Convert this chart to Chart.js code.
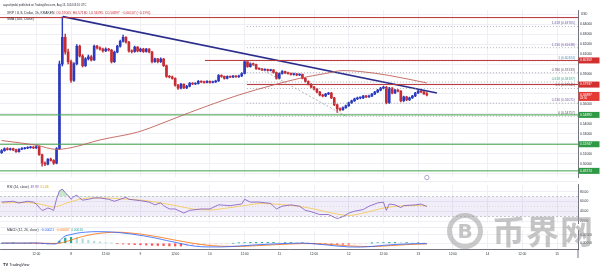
<!DOCTYPE html>
<html lang="en">
<head>
<meta charset="UTF-8">
<title>XRP / U.S. Dollar, 1h</title>
<script src="https://cdn.jsdelivr.net/npm/chart.js"></script>
<style>
  body { margin: 0; background: #fff; width: 600px; height: 270px; overflow: hidden; position: relative; }
  .pane { position: absolute; left: 0; width: 600px; }
  .mark { position: absolute; pointer-events: none; color: rgba(150, 150, 150, 0.55); }
  .coin { left: 447px; top: 213px; width: 26px; height: 26px; border: 5px solid rgba(150, 150, 150, 0.5);
          border-radius: 50%; font: bold 20px "DejaVu Sans", sans-serif; line-height: 26px; text-align: center; }
  .cn { left: 492px; top: 211px; font: bold 33px "Noto Sans CJK SC", sans-serif; line-height: 38px; letter-spacing: 1px; }
</style>
</head>
<body>
<div class="pane" style="top:0;height:181px"><canvas id="price" width="600" height="181"></canvas></div>
<div class="pane" style="top:181px;height:46px"><canvas id="rsi" width="600" height="46"></canvas></div>
<div class="pane" style="top:227px;height:43px"><canvas id="macd" width="600" height="43"></canvas></div>
<div class="mark coin">B</div>
<div class="mark cn">币界网</div>

<script>
// ---- data (hour 0 = Aug 8 00:00 UTC, one candle per hour from Aug 7 00:00) ----
const firstOpen = 0.5110;
const closes = [
  0.5130,0.5150,0.5142,0.5150,0.5138,0.5120,0.5144,0.5150,0.5156,0.5160,0.5166,0.5158,0.5170,0.5090,0.5005,0.4995,
  0.5045,0.5032,0.5005,0.5150,0.6000,0.6268,0.6121,0.6023,0.5836,0.6003,0.6179,0.6081,0.5983,0.6052,0.6072,0.6040,
  0.6179,0.6162,0.6150,0.6132,0.6150,0.6140,0.6023,0.6120,0.6179,0.6228,0.6268,0.6220,0.6130,0.6125,0.6170,0.6130,
  0.6150,0.6125,0.6150,0.6121,0.6023,0.6052,0.6023,0.6050,0.5983,0.5875,0.5870,0.5856,0.5787,0.5758,0.5797,0.5760,
  0.5777,0.5807,0.5800,0.5805,0.5826,0.5820,0.5815,0.5826,0.5815,0.5820,0.5830,0.5885,0.5875,0.5856,0.5875,0.5870,
  0.5878,0.5872,0.5880,0.5905,0.6023,0.5974,0.6003,0.5995,0.5954,0.5950,0.5940,0.5945,0.5935,0.5940,0.5915,0.5856,
  0.5905,0.5925,0.5910,0.5905,0.5895,0.5900,0.5890,0.5895,0.5856,0.5826,0.5797,0.5768,0.5748,0.5719,0.5689,0.5679,
  0.5699,0.5709,0.5660,0.5591,0.5552,0.5542,0.5562,0.5581,0.5611,0.5630,0.5650,0.5660,0.5660,0.5679,0.5670,0.5679,
  0.5699,0.5719,0.5738,0.5758,0.5768,0.5611,0.5758,0.5709,0.5738,0.5728,0.5630,0.5670,0.5640,0.5660,0.5679,0.5709,
  0.5728,0.5719,0.5700,0.5690
];
const highs = [
  0.5142,0.5158,0.5160,0.5157,0.5156,0.5145,0.5150,0.5161,0.5164,0.5170,0.5175,0.5172,0.5180,0.5176,0.5096,0.5018,
  0.5052,0.5056,0.5040,0.5162,0.6030,0.6474,0.6300,0.6150,0.6040,0.6015,0.6195,0.6190,0.6095,0.6065,0.6090,0.6085,
  0.6190,0.6188,0.6172,0.6160,0.6162,0.6158,0.6148,0.6130,0.6188,0.6240,0.6290,0.6275,0.6228,0.6142,0.6180,0.6176,
  0.6160,0.6158,0.6158,0.6156,0.6128,0.6060,0.6058,0.6062,0.6058,0.5990,0.5885,0.5880,0.5862,0.5795,0.5805,0.5802,
  0.5785,0.5815,0.5814,0.5812,0.5835,0.5832,0.5828,0.5834,0.5830,0.5828,0.5838,0.5895,0.5892,0.5880,0.5882,0.5880,
  0.5886,0.5884,0.5888,0.5914,0.6035,0.6028,0.6012,0.6010,0.6000,0.5962,0.5956,0.5952,0.5950,0.5948,0.5946,0.5920,
  0.5912,0.5934,0.5930,0.5918,0.5912,0.5908,0.5906,0.5903,0.5900,0.5862,0.5832,0.5803,0.5775,0.5755,0.5725,0.5696,
  0.5706,0.5716,0.5715,0.5666,0.5598,0.5560,0.5570,0.5588,0.5618,0.5638,0.5658,0.5668,0.5670,0.5686,0.5686,0.5688,
  0.5706,0.5726,0.5746,0.5766,0.5778,0.5775,0.5766,0.5764,0.5746,0.5745,0.5734,0.5678,0.5676,0.5668,0.5686,0.5716,
  0.5736,0.5735,0.5725,0.5718
];
const lows = [
  0.5102,0.5124,0.5135,0.5136,0.5130,0.5112,0.5116,0.5139,0.5145,0.5150,0.5154,0.5150,0.5152,0.5082,0.4974,0.4980,
  0.4988,0.5025,0.4992,0.4998,0.5140,0.5980,0.6100,0.6000,0.5815,0.5825,0.5990,0.6070,0.5970,0.5975,0.6040,0.6030,
  0.6035,0.6150,0.6140,0.6120,0.6125,0.6130,0.6010,0.6015,0.6112,0.6170,0.6220,0.6210,0.6120,0.6112,0.6118,0.6122,
  0.6122,0.6115,0.6118,0.6112,0.6012,0.6015,0.6010,0.6015,0.5975,0.5865,0.5860,0.5848,0.5778,0.5745,0.5750,0.5752,
  0.5752,0.5770,0.5792,0.5794,0.5798,0.5812,0.5808,0.5810,0.5808,0.5809,0.5814,0.5825,0.5866,0.5848,0.5850,0.5862,
  0.5864,0.5866,0.5866,0.5874,0.5900,0.5966,0.5968,0.5985,0.5946,0.5942,0.5932,0.5934,0.5928,0.5930,0.5908,0.5848,
  0.5850,0.5898,0.5902,0.5898,0.5888,0.5888,0.5882,0.5884,0.5850,0.5818,0.5790,0.5760,0.5740,0.5710,0.5680,0.5670,
  0.5672,0.5692,0.5652,0.5582,0.5513,0.5530,0.5535,0.5555,0.5575,0.5604,0.5624,0.5642,0.5650,0.5652,0.5662,0.5664,
  0.5672,0.5692,0.5712,0.5730,0.5750,0.5600,0.5605,0.5700,0.5702,0.5720,0.5620,0.5624,0.5632,0.5634,0.5654,0.5672,
  0.5702,0.5712,0.5694,0.5679
];

const smaHours  = [-24, -12, -5, 0, 10, 23, 28, 41, 58, 70, 79, 88, 94, 100, 110, 123];
const smaValues = [0.5232,0.5185,0.5143,0.5160,0.5238,0.5316,0.5366,0.5513,0.5689,0.5790,0.5856,0.5905,0.5934,0.5925,0.5885,0.5810];

const rsiHours  = [-24,-20,-18,-15,-13,-12,-11,-10,-9,-8,-7,-6,-5,-4,-3,-2,-1,0,1,2,3,4,6,8,10,13,15,17,19,20,24,27,29,31,32,34,
                   36,38,39,41,45,48,51,55,59,60,62,65,69,71,73,76,79,81,83,86,89,92,94,96,98,101,103,106,108,109,110,112,114,115,119,121,123];
const rsiValues = [58.8,60.5,57.0,60.5,58.8,55.0,48.0,42.0,44.0,47.0,45.0,42.0,65.0,81.7,85.0,78.0,72.0,64.5,70.0,72.8,67.0,62.8,64.5,67.2,67.2,64.5,60.5,64.5,68.3,64.5,61.7,58.8,53.3,57.2,51.7,45.0,
                   45.0,39.5,36.7,42.2,45.0,45.0,53.3,51.7,55.0,64.5,58.8,58.8,56.2,45.0,50.5,53.3,50.5,42.2,39.5,33.8,33.8,25.5,29.5,36.7,40.5,43.8,50.5,57.2,58.8,42.2,55.0,53.3,47.8,51.7,53.3,55.0,49.93];
const rsiMaHours  = [-24,-16,-10,-6,-2,2,6,12,18,24,30,36,42,48,54,60,66,72,78,84,90,96,102,108,114,120,123];
const rsiMaValues = [57,58,54,49,56,63,67,67,65,63,58,52,45,43,47,52,56,54,51,45,37,32,38,47,51,52,51.06];

const macdHours  = [-24,-16,-12,-9,-6,-5,-4,-3,-2,0,2,5,9,13,17,21,25,29,33,37,40,43,47,52,58,64,70,76,80,84,88,92,96,100,104,108,112,116,120,123];
const macdValues = [0.0001,0.0001,0.0002,-0.0002,-0.0004,-0.0002,0.0012,0.0030,0.0042,0.0050,0.0058,0.0064,0.0067,0.0066,0.0061,0.0053,
                    0.0043,0.0031,0.0016,0.0002,-0.0009,-0.0017,-0.0021,-0.0021,-0.0016,-0.0009,-0.0004,0.0000,0.0001,-0.0003,-0.0009,-0.0016,
                    -0.0021,-0.0022,-0.0018,-0.0012,-0.0007,-0.0004,-0.0002,-0.00021];
const signalHours  = [-24,-12,-6,-4,-3,-1,1,4,8,12,16,20,24,28,32,36,40,44,48,52,58,64,70,76,80,84,88,92,96,100,104,108,112,116,120,123];
const signalValues = [0.0001,0.0001,-0.0001,0.0000,0.0004,0.0013,0.0024,0.0039,0.0053,0.0061,0.0064,0.0060,0.0053,0.0043,0.0031,0.0018,
                      0.0006,-0.0005,-0.0013,-0.0017,-0.0018,-0.0014,-0.0009,-0.0004,-0.0002,-0.0002,-0.0005,-0.0010,-0.0015,-0.0018,-0.0019,
                      -0.0016,-0.0012,-0.0008,-0.0005,-0.00037];
// histogram, one bar every 2 hours from hour -24
const histValues = [
  0,0,0.0001,0,0,0,-0.0001,-0.0002,-0.0003,-0.0003,0.0012,0.0030,0.0034,0.0032,0.0026,0.0018,0.0012,0.0008,0.0004,0.0001,
  -0.0002,-0.0004,-0.0006,-0.0008,-0.0009,-0.0010,-0.0012,-0.0013,-0.0014,-0.0015,-0.0016,-0.0016,-0.0015,-0.0013,-0.0011,
  -0.0009,-0.0007,-0.0005,-0.0004,-0.0002,0,0.0002,0.0004,0.0005,0.0005,0.0005,0.0005,0.0005,0.0004,0.0004,0.0004,0.0003,
  0.0003,0.0001,-0.0001,-0.0003,-0.0004,-0.0005,-0.0006,-0.0006,-0.0006,-0.0005,-0.0004,-0.0002,0.0001,0.0003,0.0004,0.0005,
  0.0005,0.0004,0.0004,0.0003,0.0003,0.00016
];

const tickHours  = [-12, 0, 12, 24, 36, 48, 60, 72, 84, 96, 108, 120, 132, 144, 156, 168];
const tickLabels = ['12:00','8','12:00','9','12:00','10','12:00','11','12:00','12','12:00','13','12:00','14','12:00','15'];
const priceTicks = [0.65,0.64,0.63,0.62,0.61,0.60,0.59,0.58,0.57,0.56,0.55,0.54,0.53,0.52,0.51,0.50,0.49];
const priceTickShown = [false,true,true,true,true,false,true,false,false,true,false,true,true,false,true,true,false];

// drawn levels
const topLevel = 0.6466;
const redLevels = [0.60359, 0.57937];
const redStarts = [46.3, 60.8];
const greenLevels = [0.54892, 0.51947, 0.49274];
const fibRatios = ['1.618','1.236','1','0.786','0.618','0.5','0.236','0'];
const fibPrices = [0.63765,0.61638,0.60324,0.59133,0.58197,0.57541,0.56071,0.54757];
const fibColors = ['#6a5d9e','#7a5da8','#4a8fb8','#6d4c6b','#3fa38f','#8a4a4a','#7b5aa6','#5d5d6a'];
const trendHours = [-2.8, 126.5];
const trendPrices = [0.6476, 0.5709];
const lastPrice = 0.56897;

const X_MIN = -24.55, X_MAX = 175.25;
const UP = '#2b3bbf', DOWN = '#c62c34';
const GRID = '#eef0f5';
const FONT = '"Liberation Sans", Arial, sans-serif';

const hours = closes.map((c, i) => i - 24);
const opens = closes.map((c, i) => i === 0 ? firstOpen : closes[i - 1]);
const candleColors = closes.map((c, i) => c >= opens[i] ? UP : DOWN);

function xAxis(withLabels) {
    return {
        type: 'linear', min: X_MIN, max: X_MAX, offset: false,
        afterBuildTicks: s => { s.ticks = tickHours.map(v => ({ value: v })); },
        afterFit: s => { s.height = withLabels ? 21 : 0; },
        ticks: {
            display: withLabels, autoSkip: false, maxRotation: 0, padding: 3,
            font: { size: 3.2, family: FONT }, color: '#2a2e39',
            callback: v => tickLabels[tickHours.indexOf(v)]
        },
        grid: { color: GRID, drawTicks: false, offset: false },
        border: { display: withLabels, color: '#50535e', width: 0.8 }
    };
}

function yAxis(min, max, ticks, label) {
    return {
        position: 'right', min: min, max: max,
        afterBuildTicks: s => { s.ticks = ticks.map(v => ({ value: v })); },
        afterFit: s => { s.width = 22; },
        ticks: { font: { size: 3.3, family: FONT }, color: '#2a2e39', padding: 2, callback: label },
        grid: { color: GRID, drawTicks: false },
        border: { color: '#50535e', width: 0.8 }
    };
}

function line(xs, ys, color, width, extra) {
    return Object.assign({
        type: 'line', data: xs.map((x, i) => ({ x: x, y: ys[i] })),
        borderColor: color, borderWidth: width, pointRadius: 0, fill: false, order: 1
    }, extra || {});
}

function txt(ctx, s, x, y, size, color, align, weight) {
    ctx.font = (weight || '') + ' ' + size + 'px ' + FONT;
    ctx.fillStyle = color;
    ctx.textAlign = align || 'left';
    ctx.textBaseline = 'middle';
    ctx.fillText(s, x, y);
    return ctx.measureText(s).width;
}

function runs(ctx, parts, x, y, size) {
    parts.forEach(p => { x += txt(ctx, p[0], x, y, size, p[1]) + size * 0.5; });
}

function tag(ctx, y, text, bg, sub) {
    const h = sub ? 9 : 6;
    ctx.fillStyle = bg;
    ctx.fillRect(578.5, y - 3, 21, h);
    txt(ctx, text, 580, y, 3.3, '#fff');
    if (sub) txt(ctx, sub, 580, y + 3.6, 2.8, '#fff');
}

const common = {
    responsive: false, animation: false,
    layout: { padding: 0 },
    plugins: { legend: { display: false }, tooltip: { enabled: false } }
};

// ---- price pane ----
const priceLabels = {
    id: 'priceLabels',
    afterDraw(chart) {
        const ctx = chart.ctx, ys = chart.scales.y, xs = chart.scales.x;
        ctx.save();
        txt(ctx, 'aayushjindal published on TradingView.com, Aug 13, 2024 03:16 UTC', 3, 5, 2.7, '#2a2e39');
        runs(ctx, [['XRP / U.S. Dollar, 1h, KRAKEN', '#2a2e39'], ['O0.57005', DOWN], ['H0.57180', DOWN],
                   ['L0.56785', DOWN], ['C0.56897', DOWN], ['\u22120.00107 (\u22120.19%)', DOWN]], 7, 13.5, 3.4);
        txt(ctx, 'SMA (100, Close)', 7, 19.5, 3.4, '#2a2e39');
        txt(ctx, 'USD', 581, 14, 3, '#2a2e39');
        fibPrices.forEach((p, i) => {
            txt(ctx, fibRatios[i] + ' (' + p.toFixed(5) + ')', 575, ys.getPixelForValue(p) - 3, 3.3, fibColors[i], 'right');
        });
        redLevels.forEach(v => tag(ctx, ys.getPixelForValue(v), v.toFixed(5), '#d32f2f'));
        greenLevels.forEach(v => tag(ctx, ys.getPixelForValue(v), v.toFixed(5), '#2e9a45'));
        tag(ctx, ys.getPixelForValue(lastPrice), lastPrice.toFixed(5), '#e53935', '43:50');
        // event marker
        ctx.strokeStyle = '#8e7cc3'; ctx.lineWidth = 0.7;
        ctx.beginPath(); ctx.arc(xs.getPixelForValue(123), 177.5, 2.2, 0, Math.PI * 2); ctx.stroke();
        ctx.restore();
    }
};

new Chart(document.getElementById('price'), {
    type: 'line',
    data: {
        datasets: [
            { type: 'bar', data: hours.map((h, i) => ({ x: h, y: [lows[i], highs[i]] })),
              backgroundColor: candleColors, barThickness: 0.8, grouped: false, order: 6 },
            { type: 'bar', data: hours.map((h, i) => ({ x: h, y: [opens[i], closes[i]] })),
              backgroundColor: candleColors, barThickness: 2, minBarLength: 0.8, grouped: false, order: 5 },
            line(smaHours, smaValues, '#c2615a', 0.9, { cubicInterpolationMode: 'monotone' }),
            line([X_MIN, X_MAX], [topLevel, topLevel], '#b83236', 1),
            line([redStarts[0], X_MAX], [redLevels[0], redLevels[0]], '#b83236', 1),
            line([redStarts[1], X_MAX], [redLevels[1], redLevels[1]], '#b83236', 1),
            ...greenLevels.map(v => line([X_MIN, X_MAX], [v, v], '#43a047', 1)),
            ...fibPrices.map(p => line([60.8, X_MAX], [p, p], '#9598a1', 0.7, { borderDash: [1, 2] })),
            line([60.5, 95], [fibPrices[2], fibPrices[7]], '#9598a1', 0.7, { borderDash: [2, 2] }),
            line(trendHours, trendPrices, '#2b2d8c', 1.6)
        ]
    },
    options: Object.assign({}, common, {
        layout: { padding: { top: 10 } },
        scales: {
            x: xAxis(false),
            y: yAxis(0.48657, 0.65422, priceTicks, (v, i) => priceTickShown[i] ? v.toFixed(5) : '')
        }
    }),
    plugins: [priceLabels]
});

// ---- RSI pane ----
const rsiDecor = {
    id: 'rsiDecor',
    beforeDatasetsDraw(chart) {
        const ctx = chart.ctx, ys = chart.scales.y, a = chart.chartArea;
        const y70 = ys.getPixelForValue(70), y30 = ys.getPixelForValue(30), y50 = ys.getPixelForValue(50);
        ctx.save();
        ctx.fillStyle = 'rgba(126, 87, 194, 0.1)';
        ctx.fillRect(a.left, y70, a.right - a.left, y30 - y70);
        ctx.strokeStyle = '#9598a1'; ctx.lineWidth = 0.5;
        ctx.setLineDash([2, 2]);
        [y70, y30].forEach(y => { ctx.beginPath(); ctx.moveTo(a.left, y); ctx.lineTo(a.right, y); ctx.stroke(); });
        ctx.setLineDash([1, 2]);
        ctx.strokeStyle = 'rgba(149, 152, 161, 0.5)';
        ctx.beginPath(); ctx.moveTo(a.left, y50); ctx.lineTo(a.right, y50); ctx.stroke();
        ctx.restore();
    },
    afterDraw(chart) {
        const ctx = chart.ctx;
        ctx.save();
        ctx.fillStyle = '#e0e3eb'; ctx.fillRect(0, 0, 578, 0.6);
        runs(ctx, [['RSI (14, close)', '#2a2e39'], ['49.93', '#7e57c2'], ['51.06', '#d9a400']], 7, 6, 3.3);
        ctx.restore();
    }
};

new Chart(document.getElementById('rsi'), {
    type: 'line',
    data: {
        datasets: [
            line(rsiMaHours, rsiMaValues, '#f5c74a', 0.8, { cubicInterpolationMode: 'monotone', order: 2 }),
            line(rsiHours, rsiValues, '#7e57c2', 0.8, {
                fill: { target: { value: 70 }, above: 'rgba(76, 175, 80, 0.3)', below: 'rgba(0, 0, 0, 0)' }
            })
        ]
    },
    options: Object.assign({}, common, {
        scales: { x: xAxis(false), y: yAxis(16.67, 93.33, [80, 60, 40, 20], v => v.toFixed(2)) }
    }),
    plugins: [rsiDecor]
});

// ---- MACD pane ----
const macdDecor = {
    id: 'macdDecor',
    afterDraw(chart) {
        const ctx = chart.ctx;
        ctx.save();
        ctx.fillStyle = '#e0e3eb'; ctx.fillRect(0, 0, 578, 0.6);
        runs(ctx, [['MACD (12, 26, close)', '#2a2e39'], ['\u22120.00021', '#2962ff'], ['\u22120.00037', '#ff6d00'],
                   ['0.00016', '#26a69a']], 7, 3.5, 3.3);
        // TradingView logo
        txt(ctx, 'TV', 3, 38, 4, '#131722', 'left', 'bold');
        txt(ctx, 'TradingView', 9.5, 38, 3.6, '#131722');
        ctx.fillStyle = '#50535e'; ctx.fillRect(577.6, 22, 0.8, 9);
        ctx.restore();
    }
};

function histColor(c) {
    const i = c.dataIndex, v = histValues[i], p = i > 0 ? histValues[i - 1] : 0;
    if (v >= 0) return v >= p ? '#26a69a' : '#b2dfdb';
    return v <= p ? '#ff5252' : '#ffcdd2';
}

new Chart(document.getElementById('macd'), {
    type: 'line',
    data: {
        datasets: [
            { type: 'bar', data: histValues.map((v, i) => ({ x: -24 + 2 * i, y: v })),
              backgroundColor: histColor, barThickness: 1.6, grouped: false, order: 5 },
            line(signalHours, signalValues, '#ff6d00', 0.8, { cubicInterpolationMode: 'monotone', order: 2 }),
            line(macdHours, macdValues, '#2962ff', 0.8, { cubicInterpolationMode: 'monotone' })
        ]
    },
    options: Object.assign({}, common, {
        scales: { x: xAxis(true), y: yAxis(-0.0033, 0.00708, [0.005, 0], v => v.toFixed(5)) }
    }),
    plugins: [macdDecor]
});
</script>
</body>
</html>
